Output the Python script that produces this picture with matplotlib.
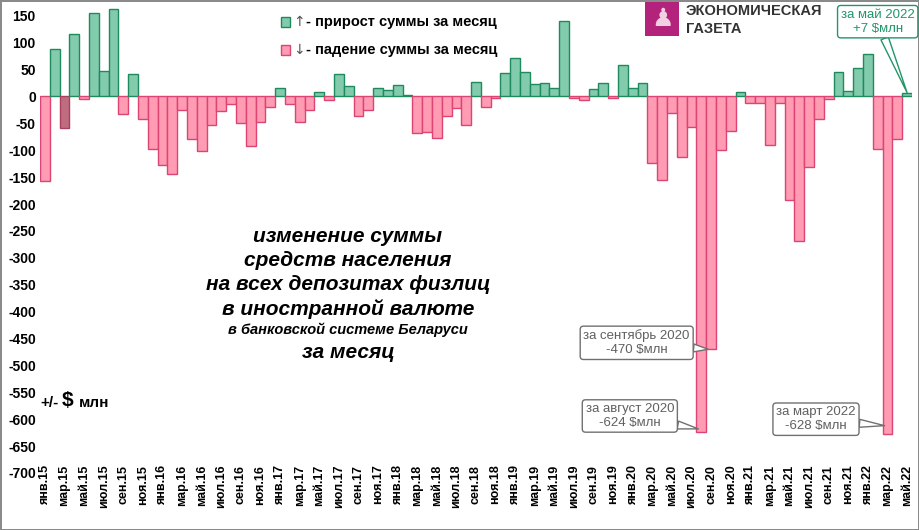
# monthly change of foreign currency deposits, Belarus
import matplotlib.pyplot as plt
import matplotlib.patches as mpatches

plt.rcParams['font.family'] = ['Liberation Sans', 'DejaVu Sans']

# months from янв.15 to май.22
months = ['янв', 'фев', 'мар', 'апр', 'май', 'июн',
          'июл', 'авг', 'сен', 'окт', 'ноя', 'дек']
labels = []
for yr in range(15, 23):
    for m in months:
        labels.append('%s.%d' % (m, yr))
labels = labels[:89]

values = [-158, 88, -59, 116, -4, 155, 48, 162, -33, 42,
          -42, -98, -128, -144, -25, -79, -102, -53, -27, -14,
          -50, -92, -48, -19, 15, -14, -48, -25, 8, -7,
          42, 19, -37, -25, 15, 12, 21, 2, -68, -66,
          -77, -37, -22, -54, 27, -19, -2, 43, 71, 45,
          23, 25, 15, 140, -2, -7, 14, 25, -2, 58,
          15, 25, -124, -155, -30, -113, -56, -624, -470, -100,
          -65, 8, -12, -12, -91, -12, -193, -269, -131, -42,
          -5, 45, 11, 52, 79, -98, -628, -79, 7]

# callouts: (bar index, text)
notes_gray = [(68, 'за сентябрь 2020\n-470 $млн'),
              (67, 'за август 2020\n-624 $млн'),
              (86, 'за март 2022\n-628 $млн')]
note_green = (88, 'за май 2022\n+7 $млн')

green_fc, green_ec = '#82cbad', '#1e8a5e'
pink_fc, pink_ec = '#ff9bb3', '#dc4474'

fig = plt.figure(figsize=(9.19, 5.30), dpi=100)
fig.patch.set_edgecolor('#8a8a8a')
fig.patch.set_linewidth(2)
ax = fig.add_axes([40/919, 1-473/530, 872/919, 468/530])

x = list(range(len(values)))
fcs = [green_fc if v >= 0 else pink_fc for v in values]
ecs = [green_ec if v >= 0 else pink_ec for v in values]
fcs[2] = '#c06c80'
ecs[2] = '#a8405e'
ax.bar(x, values, width=1.0, color=fcs, edgecolor=ecs, linewidth=1)

ax.set_xlim(-0.5, len(values)-0.5)
ax.set_ylim(-700, 170)
ax.set_yticks(range(-700, 151, 50))
ax.set_yticklabels([str(t) for t in range(-700, 151, 50)],
                   fontsize=10, fontweight='bold')
ax.set_xticks(x[::2])
ax.set_xticklabels(labels[::2], rotation=90, fontsize=9, fontweight='bold')
ax.tick_params(length=0, pad=3)
ax.tick_params(axis='x', pad=-6)
for s in ax.spines.values():
    s.set_visible(False)

# callouts
box_pos = {68: (60.4, -458), 67: (59.7, -594), 86: (78.7, -600)}
tip_y = {68: -470, 67: -618, 86: -612}
for i, txt in notes_gray:
    ax.annotate(txt, xy=(i-0.3, tip_y[i]), xytext=box_pos[i],
                ha='center', va='center', fontsize=9.5, color='#606060',
                bbox=dict(boxstyle='round,pad=0.25', fc='white', ec='#707070', lw=1),
                arrowprops=dict(arrowstyle='wedge,tail_width=0.6', fc='white',
                                ec='#707070', lw=1, shrinkA=0, shrinkB=0))
i, txt = note_green
ax.annotate(txt, xy=(i, values[i]), xytext=(85.0, 139),
            ha='center', va='center', fontsize=9.5, color='#22966a',
            bbox=dict(boxstyle='round,pad=0.25', fc='white', ec='#22966a', lw=1),
            arrowprops=dict(arrowstyle='wedge,tail_width=0.6', fc='white',
                            ec='#22966a', lw=1, shrinkA=0, shrinkB=0))

# legend
for yy, fc, ec, arr, txt in [(22, green_fc, green_ec, '↑', '- прирост суммы за месяц'),
                             (50, pink_fc, pink_ec, '↓', '- падение суммы за месяц')]:
    fig.patches.append(mpatches.Rectangle((281/919, 1-(yy+5)/530), 9/919, 10/530,
                                          transform=fig.transFigure, fc=fc, ec=ec, lw=1))
    fig.text(293/919, 1-yy/530, arr, fontsize=10, color='#555555',
             family='DejaVu Sans', va='center')
    fig.text(306/919, 1-yy/530, txt, fontsize=10.5, fontweight='bold', va='center')

# logo
fig.patches.append(mpatches.Rectangle((645/919, 1-36/530), 34/919, 34/530,
                                      transform=fig.transFigure, fc='#b3237b', ec='none'))
fig.text(662/919, 1-19/530, '♟', fontsize=18, color='#f2cfe2', ha='center',
         va='center', family='DejaVu Sans')
fig.text(686/919, 1-11/530, 'ЭКОНОМИЧЕСКАЯ', fontsize=10.5, fontweight='bold',
         color='#333333', va='center')
fig.text(686/919, 1-29/530, 'ГАЗЕТА', fontsize=10.5, fontweight='bold',
         color='#333333', va='center')

# title block
title_lines = [('изменение суммы', 15, 237), ('средств населения', 15, 261),
               ('на всех депозитах физлиц', 15, 285), ('в иностранной валюте', 15, 309),
               ('в банковской системе Беларуси', 10.5, 330), ('за месяц', 15, 353)]
for txt, fs, yy in title_lines:
    fig.text(348/919, 1-yy/530, txt, fontsize=fs, fontweight='bold', style='italic',
             ha='center', va='center')

fig.text(40/919, 1-403/530, '+/-', fontsize=11, fontweight='bold', va='center')
fig.text(62/919, 1-401/530, '$', fontsize=15, fontweight='bold', va='center')
fig.text(79/919, 1-403/530, 'млн', fontsize=11, fontweight='bold', va='center')

fig.savefig('out.png', dpi=100)
